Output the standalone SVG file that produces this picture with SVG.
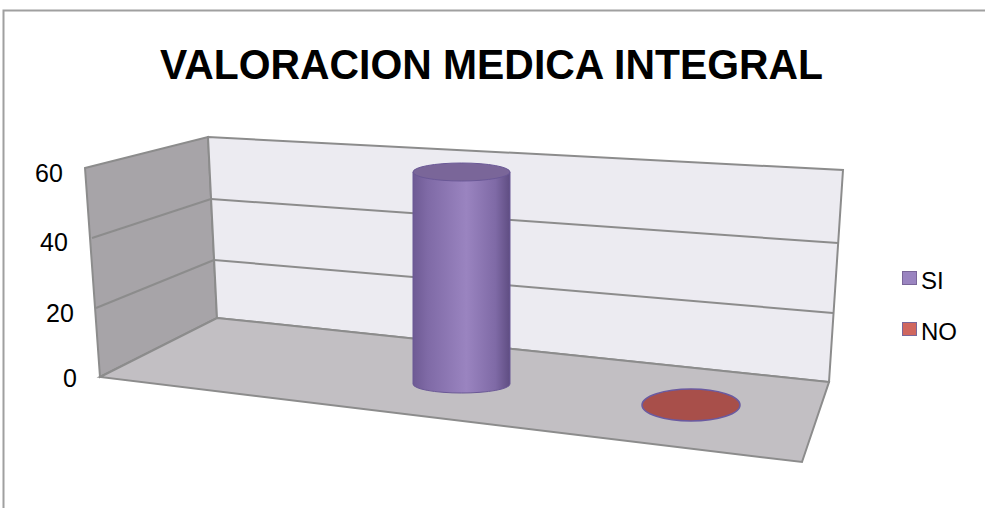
<svg xmlns="http://www.w3.org/2000/svg" width="985" height="508" viewBox="0 0 985 508">
<style>
.ax{font-family:"Liberation Sans",Arial,sans-serif;font-size:25px;fill:#000}
.lg{font-family:"Liberation Sans",Arial,sans-serif;font-size:24px;fill:#000}
.grid{stroke:#8c8c8c;stroke-width:2;fill:none}
.edge{stroke:#8c8c8c;stroke-width:2}
</style>
<defs>
<linearGradient id="cyl" x1="0" y1="0" x2="1" y2="0">
<stop offset="0" stop-color="#6e5a94"/>
<stop offset="0.15" stop-color="#7f6aa6"/>
<stop offset="0.55" stop-color="#9a84c0"/>
<stop offset="0.85" stop-color="#7f6aa6"/>
<stop offset="1" stop-color="#5f4d82"/>
</linearGradient>
</defs>
<rect x="0" y="0" width="985" height="508" fill="#fff"/>
<path d="M3.5 508 V10.5 H985" fill="none" stroke="#a0a0a0" stroke-width="2"/>
<text x="491.5" y="79" text-anchor="middle" font-family="Liberation Sans,Arial,sans-serif" font-weight="bold" font-size="43" textLength="663" lengthAdjust="spacingAndGlyphs">VALORACION MEDICA INTEGRAL</text>
<g id="walls">
<polygon points="85,168 208,137 217,318 100,377" fill="#a7a4a8" class="edge"/>
<polygon points="208,137 843,170 829,382 217,318" fill="#ecebf1" class="edge"/>
<polygon points="100,377 217,318 829,382 802,462" fill="#c2bfc3" class="edge"/>
<line class="grid" x1="92" y1="238" x2="211" y2="199"/>
<line class="grid" x1="96" y1="308" x2="214" y2="260"/>
<line class="grid" x1="211" y1="199" x2="838" y2="243"/>
<line class="grid" x1="214" y1="260" x2="833" y2="313"/>
</g>
<g id="axis">
<text class="ax" x="35" y="182">60</text>
<text class="ax" x="40" y="251">40</text>
<text class="ax" x="46" y="322">20</text>
<text class="ax" x="63" y="387">0</text>
</g>
<g id="bar-si">
<path d="M413 172 V384 A48.5 9 0 0 0 510 384 V172 Z" fill="url(#cyl)" stroke="#6a5896" stroke-width="1"/>
<ellipse cx="461.5" cy="172" rx="48.5" ry="9" fill="#7a6699" stroke="#6a5896" stroke-width="1"/>
</g>
<g id="bar-no">
<ellipse cx="691" cy="405" rx="49" ry="16" fill="#a84f4a" stroke="#6a5aa0" stroke-width="1.5"/>
</g>
<g id="legend">
<rect x="902.5" y="271.5" width="14" height="13" fill="#9a84c0" stroke="#7a6699"/>
<text class="lg" x="921" y="289">SI</text>
<rect x="902.5" y="322.5" width="14" height="13" fill="#d0665e" stroke="#7a6699"/>
<text class="lg" x="921" y="340">NO</text>
</g>
</svg>
